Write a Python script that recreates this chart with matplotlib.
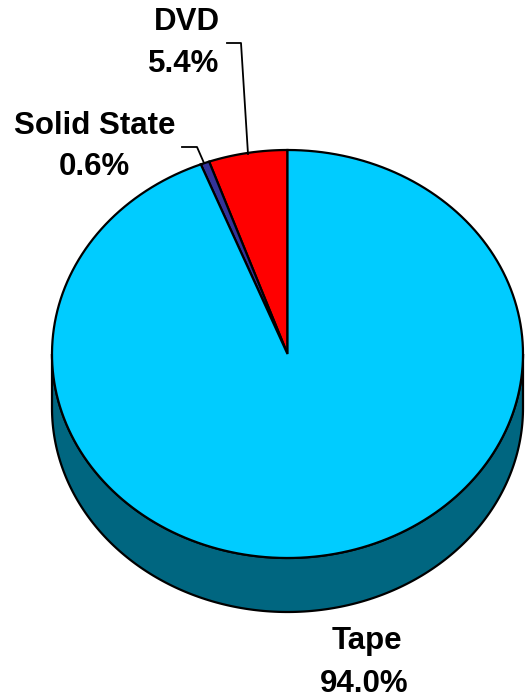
import numpy as np
import matplotlib.pyplot as plt
from matplotlib.patches import Polygon

plt.rcParams['font.family'] = ['Liberation Sans', 'DejaVu Sans']

labels = ["DVD", "Solid State", "Tape"]
shares = [5.4, 0.6, 94.0]
colors = ["#ff0000", "#333399", "#00ccff"]
side_color = "#006680"

# geometry of the tilted pie, in pixel units
cx, cy = 287.5, 354
rx, ry = 235.5, 204
depth = 54


def rim(a0, a1, dy=0, n=200):
	t = np.radians(np.linspace(a0, a1, n))
	return np.column_stack([cx + rx * np.cos(t), cy - ry * np.sin(t) + dy])


fig = plt.figure(figsize=(5.25, 6.97), dpi=100)
ax = fig.add_axes([0, 0, 1, 1])
ax.set_xlim(0, 525)
ax.set_ylim(697, 0)
ax.axis("off")

# side wall (only the front half shows, all of it Tape)
side = np.vstack([rim(180, 360), rim(360, 180, dy=depth)])
ax.add_patch(Polygon(side, closed=True, facecolor=side_color, edgecolor="black", lw=1.6, zorder=1))

# top face wedges, starting at 12 o'clock, counter-clockwise
start = 90.0
for lab, s, c in zip(labels, shares, colors):
	end = start + s / 100 * 360
	pts = np.vstack([[cx, cy], rim(start, end), [cx, cy]])
	ax.add_patch(Polygon(pts, closed=True, facecolor=c, edgecolor="black", lw=1.6, zorder=2))
	start = end

fs = 22.5
kw = dict(ha="center", va="center", fontsize=fs, fontweight="bold")
pct = ["%.1f%%" % s for s in shares]

ax.text(187, 22, labels[0], **kw)
ax.text(184, 64, pct[0], **kw)
ax.plot([227, 241, 248], [43, 43, 154], color="black", lw=1.3, zorder=3)

ax.text(95, 126, labels[1], **kw)
ax.text(94, 167, pct[1], **kw)
ax.plot([182, 197, 204], [147, 147, 163], color="black", lw=1.3, zorder=3)

ax.text(367, 641, labels[2], **kw)
ax.text(364, 684, pct[2], **kw)

plt.savefig("out.png", dpi=100)
